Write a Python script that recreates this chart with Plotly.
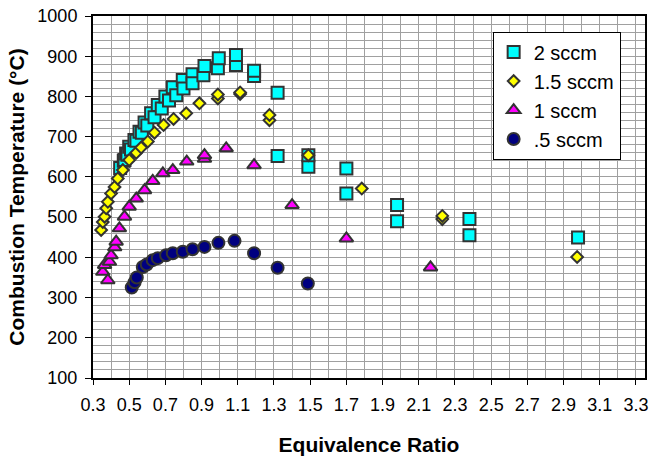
import plotly.graph_objects as go

# 2 sccm (squares)
x_2 = [0.45, 0.47, 0.474, 0.483, 0.49, 0.50, 0.51, 0.529, 0.54, 0.557, 0.57, 0.585, 0.60, 0.621,
       0.64, 0.658, 0.68, 0.70, 0.72, 0.741, 0.76, 0.796, 0.80, 0.85, 0.85, 0.91, 0.916,
       0.99, 0.995, 1.09, 1.09, 1.19, 1.19, 1.32, 1.32, 1.49, 1.49, 1.70, 1.70, 1.98, 1.98,
       2.38, 2.38, 2.98]
y_2 = [622, 640, 642, 658, 655, 675, 668, 692, 690, 712, 710, 735, 728, 758,
       748, 779, 770, 800, 790, 823, 803, 841, 820, 855, 833, 853, 876,
       870, 895, 878, 903, 851, 864, 652, 809, 625, 654, 559, 621, 490, 530,
       455, 495, 449]

# 1.5 sccm (diamonds)
x_15 = [0.345, 0.354, 0.364, 0.373, 0.382, 0.40, 0.419, 0.437, 0.465, 0.50, 0.539, 0.566,
        0.603, 0.64, 0.69, 0.745, 0.815, 0.888, 0.99, 0.99, 1.113, 1.113, 1.275, 1.275,
        1.49, 1.785, 2.23, 2.23, 2.975]
y_15 = [468, 488, 501, 522, 538, 559, 575, 596, 617, 642, 660, 673,
        688, 710, 729, 744, 758, 783, 795, 805, 806, 810, 741, 754,
        654, 571, 495, 503, 401]

# 1 sccm (triangles)
x_1 = [0.354, 0.364, 0.382, 0.391, 0.40, 0.42, 0.428, 0.446, 0.474, 0.50, 0.539, 0.585,
       0.63, 0.686, 0.741, 0.818, 0.916, 0.916, 1.036, 1.19, 1.40, 1.70, 2.165]
y_1 = [364, 381, 343, 389, 405, 425, 439, 472, 501, 526, 546, 567,
       590, 609, 617, 638, 645, 654, 671, 629, 530, 447, 375]

# .5 sccm (circles)
x_05 = [0.514, 0.53, 0.542, 0.575, 0.597, 0.63, 0.658, 0.704, 0.741, 0.796, 0.85, 0.916,
        0.993, 1.082, 1.19, 1.32, 1.487]
y_05 = [325, 338, 350, 376, 382, 393, 398, 405, 410, 414, 420, 426,
        436, 441, 410, 374, 335]

names = ["2 sccm", "1.5 sccm", "1 sccm", ".5 sccm"]
x_ticks = [0.3, 0.5, 0.7, 0.9, 1.1, 1.3, 1.5, 1.7, 1.9, 2.1, 2.3, 2.5, 2.7, 2.9, 3.1, 3.3]
y_ticks = [100, 200, 300, 400, 500, 600, 700, 800, 900, 1000]

FONT = "Liberation Sans, Arial, sans-serif"
EDGE = "#333333"

styles = [
    dict(symbol="square", size=12, color="#00FFFF"),
    dict(symbol="diamond", size=9, color="#FFFF00"),
    dict(symbol="triangle-up", size=12, color="#FF00FF"),
    dict(symbol="circle", size=12, color="#000080"),
]
data = [(x_2, y_2), (x_15, y_15), (x_1, y_1), (x_05, y_05)]

fig = go.Figure()
for (xs, ys), nm, st in zip(data, names, styles):
    fig.add_trace(go.Scatter(
        x=xs, y=ys, mode="markers", name=nm, legendgroup=nm,
        marker=dict(symbol=st["symbol"], size=st["size"], color=st["color"],
                    line=dict(color=EDGE, width=2)),
    ))

fig.update_layout(
    width=650, height=457,
    margin=dict(l=93, r=5, t=16, b=79, autoexpand=False),
    paper_bgcolor="white", plot_bgcolor="white",
    font=dict(family=FONT, color="black", size=18),
    showlegend=True,
    legend=dict(x=0.724, y=0.957, xanchor="left", yanchor="top",
                bgcolor="white", bordercolor="black", borderwidth=1,
                font=dict(family=FONT, size=20, color="black"),
                tracegroupgap=0, itemwidth=30, entrywidth=100),
    xaxis=dict(range=[0.3, 3.35], tickvals=x_ticks, ticktext=[f"{v:.1f}" for v in x_ticks],
               automargin=False,
               showline=True, linecolor="black", linewidth=2, mirror=True,
               ticks="outside", ticklen=5, tickcolor="black", ticklabelstandoff=4,
               showgrid=True, gridcolor="#a0a0a0", gridwidth=1, zeroline=False,
               minor=dict(dtick=0.1, tick0=0.3, showgrid=True, gridcolor="#a0a0a0", gridwidth=1),
               title=dict(text="<b>Equivalence Ratio</b>", font=dict(size=21), standoff=24)),
    yaxis=dict(range=[100, 1000], tickvals=y_ticks, automargin=False,
               showline=True, linecolor="black", linewidth=2, mirror=True,
               ticks="outside", ticklen=6, tickcolor="black", ticklabelstandoff=4,
               showgrid=True, gridcolor="#a0a0a0", gridwidth=1, zeroline=False,
               minor=dict(dtick=20, tick0=100, showgrid=True, gridcolor="#a0a0a0", gridwidth=1),
               title=dict(text="<b>Combustion Temperature (°C)</b>", font=dict(size=21), standoff=7)),
)

fig.write_html("out.html", config={"displayModeBar": False},
               post_script="document.body.style.margin='0';document.body.style.overflow='hidden';")
